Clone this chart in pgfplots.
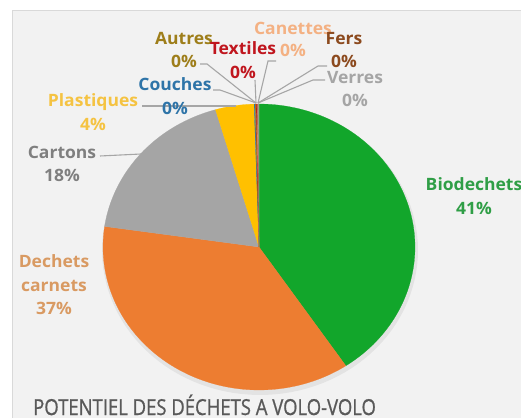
\documentclass[border=0pt]{standalone}
\usepackage{fontspec}
\setmainfont{Open Sans}
\newfontfamily\labfont{Open Sans}[FakeStretch=1.03]
\newfontfamily\titlefont{Open Sans}[FakeStretch=0.84, FakeBold=0.8]
\usepackage{pgfplots}
\pgfplotsset{compat=1.18}

\definecolor{bg}{HTML}{F2F2F2}
\definecolor{frame}{HTML}{D9D9D9}
\definecolor{leader}{HTML}{A6A6A6}
\definecolor{cBio}{HTML}{12A62B}
\definecolor{cCar}{HTML}{ED7D31}
\definecolor{cCart}{HTML}{A5A5A5}
\definecolor{cPla}{HTML}{FFC000}
\definecolor{cCou}{HTML}{2E74A8}
\definecolor{cAut}{HTML}{9E7E1A}
\definecolor{cTex}{HTML}{C0161E}
\definecolor{cCan}{HTML}{F4B183}
\definecolor{cFer}{HTML}{8C4A1E}
\definecolor{cVer}{HTML}{A5A5A5}
\definecolor{tBio}{HTML}{2F9E46}
\definecolor{tCar}{HTML}{D99A62}
\definecolor{tCart}{HTML}{7F7F7F}
\definecolor{tPla}{HTML}{F5C342}
\definecolor{ttl}{HTML}{595959}

% one slice: start angle, end angle, colour (ellipse centre 259,171)
\newcommand\slice[3]{%
  \addplot[fill=#3, draw=#3, line width=0.2pt, domain=#2:#1, samples=90]
    ({259+156*cos(x)},{171+143*sin(x)}) -- (259,171) -- cycle;}

\begin{document}
\begin{tikzpicture}
% shares in %, clockwise from the top
\pgfmathsetmacro\aO{90}
\pgfmathsetmacro\aA{\aO-3.6*40.6}  % Biodechets
\pgfmathsetmacro\aB{\aA-3.6*36.7}  % Dechets carnets
\pgfmathsetmacro\aC{\aB-3.6*18.2}  % Cartons
\pgfmathsetmacro\aD{\aC-3.6*4.0}   % Plastiques
\pgfmathsetmacro\aE{\aD-3.6*0.1}   % Couches
\pgfmathsetmacro\aF{\aE-3.6*0.1}   % Autres
\pgfmathsetmacro\aG{\aF-3.6*0.1}   % Textiles
\pgfmathsetmacro\aH{\aG-3.6*0.05}  % Canettes
\pgfmathsetmacro\aI{\aH-3.6*0.1}   % Fers
\pgfmathsetmacro\aJ{\aI-3.6*0.05}  % Verres
\begin{axis}[at={(0,0)}, anchor=south west,
    width=521bp, height=418bp, scale only axis,
    xmin=0, xmax=521, ymin=0, ymax=418,
    hide axis, clip=true]
  \fill[white] (0,0) rectangle (521,418);
  \fill[bg] (12,0) rectangle (521,407.5);
  \draw[frame, line width=0.8pt] (12,0) -- (12,407.5) -- (521,407.5);

  % soft shadow
  \addplot[fill=black, opacity=0.06, draw=none, domain=0:360, samples=120]
    ({260+158*cos(x)},{168+145*sin(x)});

  \slice{\aO}{\aA}{cBio}
  \slice{\aA}{\aB}{cCar}
  \slice{\aB}{\aC}{cCart}
  \slice{\aC}{\aD}{cPla}
  \slice{\aD}{\aE}{cCou}
  \slice{\aE}{\aF}{cAut}
  \slice{\aF}{\aG}{cTex}
  \slice{\aG}{\aH}{cCan}
  \slice{\aH}{\aI}{cFer}
  \slice{\aI}{\aJ}{cVer}

  % leader lines
  \begin{scope}[leader, line width=1.1pt]
    \draw (100,262) -- (141,264);
    \draw (142,312) -- (236,312);
    \draw (213,328) -- (220,328) -- (256,315);
    \draw (200,354) -- (207,354) -- (256,315);
    \draw (255,338) -- (256,315);
    \draw (276,357) -- (268,357) -- (258,315);
    \draw (327,352) -- (318,352) -- (258,315);
    \draw (325,338) -- (313,338) -- (258,315);
  \end{scope}

  % data labels
  \begin{scope}[every node/.style={align=center, inner sep=0pt,
      font=\labfont\bfseries\fontsize{17bp}{23.5bp}\selectfont}]
    \node[text=tBio]  at (474,222) {Biodechets\\41\%};
    \node[text=tCar]  at (54,133)  {Dechets\\carnets\\37\%};
    \node[text=tCart] at (62,254)  {Cartons\\18\%};
    \node[text=tPla]  at (93,306)  {Plastiques\\4\%};
    \node[text=cCou]  at (175,322) {Couches\\0\%};
    \node[text=cAut]  at (184,368) {Autres\\0\%};
    \node[text=cTex]  at (243,358) {Textiles\\0\%};
    \node[text=cCan, font=\labfont\bfseries\fontsize{17bp}{22bp}\selectfont]
                      at (293,379) {Canettes\\0\%};
    \node[text=cFer]  at (344,368) {Fers\\0\%};
    \node[text=cVer]  at (355,329) {Verres\\0\%};
  \end{scope}

  \node[anchor=base west, inner sep=0pt, text=ttl,
        font=\titlefont\fontsize{22bp}{24bp}\selectfont]
    at (33,3) {POTENTIEL DES DÉCHETS A VOLO-VOLO};
\end{axis}
\pgfresetboundingbox
\useasboundingbox (0,0) rectangle (521bp,418bp);
\end{tikzpicture}
\end{document}
